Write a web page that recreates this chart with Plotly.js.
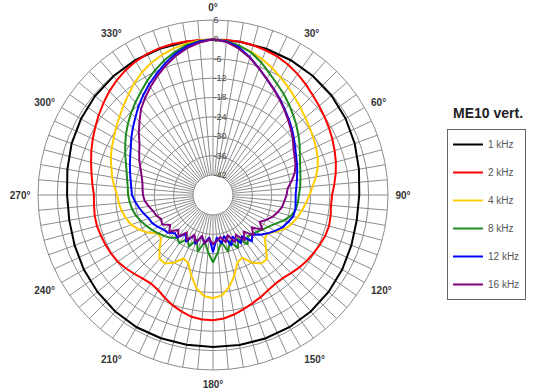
<!DOCTYPE html>
<html>
<head>
<meta charset="utf-8">
<script src="https://cdn.plot.ly/plotly-3.0.1.min.js"></script>
<style>html,body{margin:0;padding:0;background:#fff;}#chart{width:538px;height:392px;}</style>
</head>
<body>
<div id="chart"></div>
<script>
// Angles (degrees, clockwise from top)
const theta10 = [0,10,20,30,40,50,60,70,80,90,100,110,120,130,140,150,160,170,180,190,200,210,220,230,240,250,260,270,280,290,300,310,320,330,340,350,360];
const theta5 = [0,5,10,15,20,25,30,35,40,45,50,55,60,65,70,75,80,85,90,95,100,105,110,115,120,125,130,135,140,145,150,155,160,165,170,175,180,185,190,195,200,205,210,215,220,225,230,235,240,245,250,255,260,265,270,275,280,285,290,295,300,305,310,315,320,325,330,335,340,345,350,355,360];

// Levels in dB
const k1 = [0,0,0,0,-0.1,-0.3,-0.8,-1.5,-2.3,-2.9,-3,-2.6,-2,-1.5,-1.1,-0.9,-0.9,-1,-1.1,-1.1,-1,-0.9,-1.1,-1.5,-2,-2.6,-3,-3,-2.4,-1.6,-1,-0.5,-0.2,0,0,0,0];
const k2 = [0,0,0,-0.2,-0.5,-0.9,-1.6,-2.5,-3.5,-4.5,-5.3,-6,-6.7,-7.4,-8.1,-8.8,-9.6,-10.5,-11.3,-11.5,-11.2,-11,-11.2,-11.7,-12.2,-12.7,-13.3,-14,-14.6,-14.6,-14.1,-13.3,-12.5,-11.6,-10.6,-9.8,-9.4,-9.5,-9.9,-10.8,-11.8,-13,-14.2,-14.7,-14.4,-13.7,-12.9,-12.2,-11.8,-11.5,-11.3,-11,-11,-11.2,-11.3,-10.7,-10,-9.1,-8.1,-7.1,-6.1,-5,-3.9,-2.8,-1.8,-1,-0.4,0,0.2,0.2,0.1,0,0];
const k4 = [0,-0.4,-1.3,-2.3,-3.5,-4.8,-6.2,-7.5,-8.8,-9.9,-10.9,-11.7,-12.4,-13,-13.7,-14.6,-15.8,-17.2,-18.3,-19.3,-20.3,-21.2,-22.2,-23.5,-25.5,-27.5,-27.3,-25,-22.2,-22.3,-24,-26.8,-26,-22.5,-19.3,-17,-16.2,-16.8,-18.8,-22.3,-25.8,-26.5,-24,-22.3,-22.4,-24.8,-27.2,-27.4,-25,-22.8,-21.3,-20.3,-19.5,-18.9,-18.5,-17.5,-16.5,-15.6,-14.5,-13.6,-12.7,-11.6,-10.4,-9,-7.5,-5.8,-4.3,-3,-2,-1.2,-0.6,-0.2,0];
const k8 = [0,-0.3,-1.2,-2.5,-4.5,-6.7,-8.5,-10,-11.6,-13.1,-14.5,-15.9,-17.2,-18.5,-19.5,-20.2,-20.7,-21.1,-21.6,-21.8,-22.2,-23.2,-25,-27,-28.5,-29.5,-30.5,-31,-31.5,-29.5,-32.5,-30,-33,-30,-33.5,-30.5,-27.3,-30.5,-33.5,-30,-33.5,-30.5,-32.5,-30,-31,-29.5,-28.5,-27.5,-26.5,-25.5,-24.5,-23.5,-22.8,-22.3,-21.9,-21.7,-21.2,-20.5,-19.5,-18.2,-16.8,-15.3,-13.8,-12.3,-10.8,-9.2,-7.4,-5.6,-3.9,-2.4,-1,-0.3,0];
const k12 = [0,-0.5,-1.8,-4,-6.5,-8.7,-10.4,-12,-13.6,-15,-16.3,-17.6,-18.8,-19.8,-20.5,-21.2,-21.8,-22.3,-22.6,-22.5,-22.3,-22.5,-23.5,-24.5,-26,-27.5,-29,-31,-29.5,-32.5,-31,-34,-31.5,-35,-33,-35,-30.5,-35,-33,-35,-32,-34.5,-31.5,-33.5,-31,-31.5,-30,-29.5,-28.5,-27.5,-27,-26,-25,-24,-23.1,-22.8,-22.3,-21.6,-20.8,-19.9,-18.8,-17.3,-15.8,-14.2,-12.3,-10.5,-8.6,-6.8,-4.8,-3,-1.5,-0.5,0];
const k16 = [0,-0.6,-2.2,-4.2,-6.5,-8.6,-10.5,-12.2,-13.8,-15.3,-16.7,-18,-19.4,-20.3,-21,-22,-23.5,-25,-25.4,-26,-26.5,-27.5,-28.5,-30,-31.5,-29.5,-32.5,-30.5,-33.5,-31,-34,-32,-35,-33,-35,-34,-33,-34.5,-33,-35,-32.5,-34.5,-32,-34,-31.5,-33,-30.5,-32,-30,-30.5,-29.5,-29,-28,-27,-26.5,-26.3,-26,-25.3,-24.3,-23,-21.8,-20.4,-18.2,-16,-13.5,-11.5,-9.5,-7.5,-5.5,-3.6,-2,-0.8,0];

const seriesNames = ['1 kHz','2 kHz','4 kHz','8 kHz','12 kHz','16 kHz'];
const seriesColors = ['#000000','#ff0000','#ffcc00','#1f8a1f','#0000ff','#800080'];
const seriesTheta = [theta10, theta5, theta5, theta5, theta5, theta5];
const seriesR = [k1, k2, k4, k8, k12, k16];

const radialTicks = [-42,-36,-30,-24,-18,-12,-6,0,6];
const radialLabels = ['-42','-36','-30','-24','-18','-12','-6','0','6'];
const angTicks = [];
const angLabels = [];
for (let a = 0; a < 360; a += 5) { angTicks.push(a); angLabels.push(a % 30 === 0 ? a + '°' : ''); }

const traces = seriesNames.map((n, i) => ({
  type: 'scatterpolar', mode: 'lines', name: n,
  theta: seriesTheta[i], r: seriesR[i],
  line: {color: seriesColors[i], width: 2},
  legendgroup: 'g' + i,
  hoverinfo: 'skip'
}));

const W = 538, H = 392, cx = 213, cy = 195, R = 175;
const layout = {
  width: W, height: H,
  margin: {l: 0, r: 0, t: 0, b: 0},
  paper_bgcolor: '#ffffff',
  font: {family: 'Arial, Liberation Sans, sans-serif', color: '#333'},
  showlegend: true,
  polar: {
    domain: {x: [(cx - R) / W, (cx + R) / W], y: [(H - cy - R) / H, (H - cy + R) / H]},
    hole: 20 / R,
    bgcolor: '#ffffff',
    radialaxis: {
      range: [-42, 6], tickmode: 'array', tickvals: radialTicks, ticktext: radialLabels,
      angle: 90, tickangle: 90, showline: false, ticks: '', gridcolor: '#8c8c8c', gridwidth: 1,
      tickfont: {size: 9, color: '#444'}
    },
    angularaxis: {
      rotation: 90, direction: 'clockwise', tickmode: 'array', tickvals: angTicks, ticktext: angLabels,
      showline: true, linecolor: '#8c8c8c', linewidth: 1, gridcolor: '#8c8c8c', gridwidth: 1,
      ticks: 'outside', ticklen: 5, tickcolor: 'rgba(0,0,0,0)',
      tickfont: {size: 10, color: '#333', weight: 'bold'}
    }
  },
  legend: {
    x: 447 / W, y: (H - 129) / H, xanchor: 'left', yanchor: 'top',
    bordercolor: '#666', borderwidth: 1, bgcolor: '#fff',
    font: {size: 10, color: '#555'}, tracegroupgap: 9, itemwidth: 30, traceorder: 'grouped'
  },
  annotations: [{
    text: 'ME10 vert.', x: 488 / W, y: (H - 113) / H, xref: 'paper', yref: 'paper',
    showarrow: false, xanchor: 'center', yanchor: 'middle',
    font: {size: 14, color: '#222', weight: 'bold'}
  }]
};

Plotly.newPlot('chart', traces, layout, {staticPlot: true, displayModeBar: false});
</script>
</body>
</html>
